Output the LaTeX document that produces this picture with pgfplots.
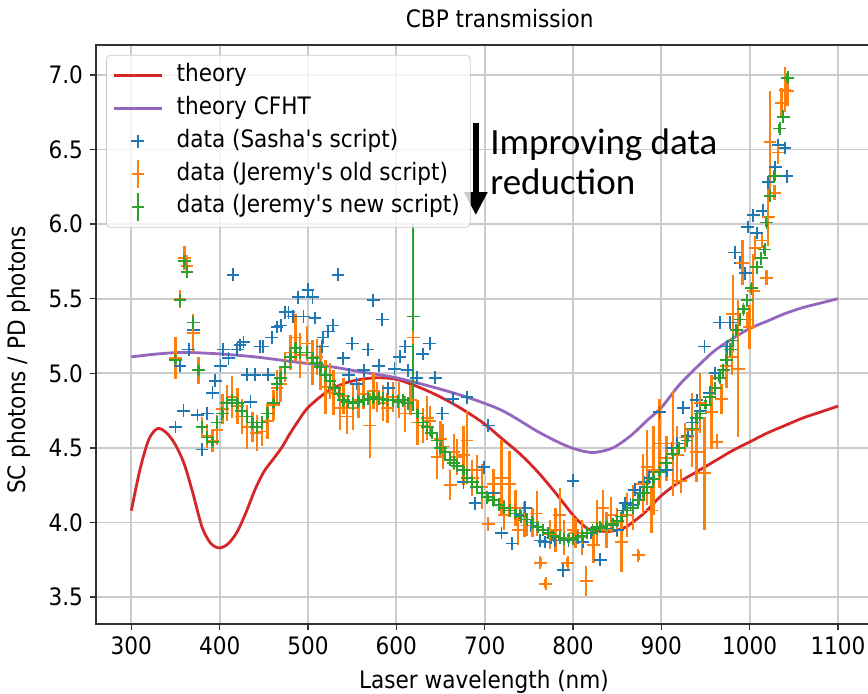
\documentclass[border=0pt]{standalone}
\usepackage{fontspec}
\setmainfont{DejaVu Sans Condensed}
\newfontfamily\calibri{Carlito}
\usepackage{pgfplots}
\usepackage{pgfplotstable}
\pgfplotsset{compat=1.18}
\usetikzlibrary{arrows.meta}

\definecolor{tabblue}{HTML}{1F77B4}
\definecolor{taborange}{HTML}{FF7F0E}
\definecolor{tabgreen}{HTML}{2CA02C}
\definecolor{tabred}{HTML}{D62728}
\definecolor{tabpurple}{HTML}{9467BD}
\definecolor{gridgray}{HTML}{CBCBCB}
\definecolor{spine}{HTML}{333333}

\pgfplotsset{
  lineleg/.style={legend image code/.code={\draw[##1] (0pt,0pt) -- (24pt,0pt);}},
  markleg/.style={legend image code/.code={\draw[##1] plot[only marks] coordinates {(12pt,0pt)};}},
  orangeleg/.style={legend image code/.code={\draw[taborange, line width=1.1pt] (12pt,-7pt) -- (12pt,7pt); \draw[taborange, line width=0.9pt] (9pt,0pt) -- (15pt,0pt);}},
  greenleg/.style={legend image code/.code={\draw[tabgreen, line width=1.1pt] (12pt,-7pt) -- (12pt,7pt); \draw[tabgreen, line width=0.9pt] (9pt,0pt) -- (15pt,0pt);}},
}

\pgfplotstableread{
x y
350 4.64
355 5.05
359 4.75
365 5.16
370 5.29
375 4.72
380 4.49
386 4.73
392 4.87
395 4.95
401 5.05
404 5.16
410 5.10
415 5.66
420 5.16
423 5.19
427 5.21
431 4.99
435 4.81
440 4.99
446 5.18
449 5.18
455 4.99
459 5.24
465 5.31
469 5.32
474 5.41
478 5.41
483 5.38
489 5.51
495 5.38
500 5.56
505 5.51
508 5.37
516 5.18
517 5.24
523 5.28
528 5.32
534 5.66
540 5.10
546 4.99
550 5.20
555 4.93
563 5.02
568 5.16
574 5.49
580 5.05
584 5.36
591 4.90
598 5.03
604 5.11
610 5.18
613 5.02
623 4.97
630 5.13
638 5.20
644 4.97
652 4.73
664 4.83
676 4.27
680 4.84
689 4.13
699 4.37
704 4.65
710 4.20
719 3.93
731 3.86
740 4.05
746 4.10
752 3.98
763 3.88
768 3.87
775 3.90
780 3.88
789 3.68
795 3.88
800 4.28
806 3.90
811 3.87
820 3.93
831 3.75
838 3.96
845 3.98
850 3.95
857 4.08
859 4.13
865 4.12
870 4.22
876 4.20
881 4.27
886 4.30
891 4.34
898 4.74
906 4.35
912 4.50
918 4.53
925 4.77
930 4.58
935 4.67
940 4.82
944 4.75
949 5.18
955 4.87
961 5.00
966 5.34
974 5.18
978 5.34
983 5.81
989 5.74
995 5.67
998 5.98
1004 6.06
1008 5.94
1015 6.09
1021 6.28
1029 6.38
1032 6.53
1040 6.51
1042 6.32
}\sasha

\pgfplotstableread{
x y e
350 5.10 0.14
355 5.50 0.06
360 5.77 0.08
363 5.72 0.07
370 5.27 0.13
376 5.02 0.09
380 4.64 0.07
386 4.58 0.08
392 4.55 0.08
397 4.62 0.10
403 4.76 0.10
408 4.80 0.12
414 4.84 0.14
420 4.78 0.12
425 4.71 0.12
431 4.64 0.15
437 4.64 0.10
442 4.60 0.12
448 4.61 0.10
454 4.68 0.12
461 4.79 0.10
465 4.90 0.12
469 4.93 0.12
474 5.04 0.10
480 5.14 0.12
486 5.24 0.16
491 5.12 0.15
499 5.20 0.12
505 5.07 0.15
510 5.11 0.12
514 5.04 0.15
520 4.91 0.18
525 4.95 0.12
529 4.87 0.15
536 4.77 0.15
540 4.85 0.12
544 4.71 0.12
551 4.77 0.15
557 4.82 0.12
563 4.86 0.10
570 4.65 0.22
574 4.88 0.12
578 4.84 0.10
585 4.80 0.12
590 4.77 0.10
596 4.84 0.10
603 4.82 0.12
610 4.73 0.12
616 4.82 0.10
619 5.24 0.05
624 4.67 0.15
630 4.65 0.12
635 4.70 0.15
638 4.68 0.10
646 4.44 0.15
650 4.56 0.12
653 4.51 0.15
661 4.25 0.10
665 4.47 0.12
669 4.44 0.12
676 4.45 0.20
680 4.55 0.20
686 4.30 0.12
691 4.35 0.10
697 4.24 0.15
704 3.99 0.05
710 4.26 0.10
719 4.30 0.25
722 4.05 0.10
728 4.26 0.22
735 4.10 0.12
738 3.95 0.10
745 4.02 0.12
748 3.98 0.07
754 4.00 0.10
759 4.06 0.15
763 3.73 0.03
769 3.59 0.03
774 3.92 0.10
780 3.95 0.15
785 4.05 0.18
790 3.90 0.12
794 3.73 0.03
800 3.95 0.10
803 3.93 0.10
810 3.90 0.12
815 3.61 0.10
823 3.85 0.12
827 4.00 0.15
834 4.10 0.12
838 3.95 0.12
843 4.05 0.12
850 4.00 0.10
855 3.87 0.20
861 4.05 0.15
868 4.10 0.15
874 3.78 0.03
879 4.26 0.20
884 4.37 0.25
889 4.08 0.15
891 4.35 0.30
898 4.53 0.30
906 4.43 0.15
913 4.53 0.35
918 4.45 0.20
922 4.28 0.08
927 4.57 0.10
935 4.62 0.25
940 4.47 0.20
944 4.80 0.20
949 4.33 0.38
957 4.74 0.25
963 4.54 0.05
968 4.83 0.10
974 5.05 0.15
980 5.11 0.12
981 5.40 0.26
987 5.03 0.46
992 5.74 0.15
997 5.36 0.05
1000 5.31 0.15
1004 5.55 0.25
1006 5.84 0.08
1014 5.89 0.05
1019 5.64 0.05
1021 6.05 0.20
1023 6.55 0.34
1028 6.21 0.05
1032 6.48 0.08
1036 6.81 0.10
1040 6.90 0.15
1043 6.89 0.10
}\jold

\pgfplotstableread{
x y e
350 5.09 0.03
355 5.49 0.03
360 5.75 0.03
363 5.68 0.03
370 5.34 0.04
376 5.02 0.03
380 4.64 0.03
386 4.57 0.03
392 4.54 0.03
397 4.67 0.03
403 4.73 0.03
408 4.80 0.03
414 4.82 0.03
420 4.80 0.03
425 4.75 0.03
431 4.71 0.03
437 4.67 0.03
442 4.64 0.03
448 4.67 0.03
454 4.73 0.03
461 4.80 0.03
465 4.93 0.03
469 4.97 0.03
474 5.04 0.03
480 5.11 0.03
486 5.17 0.03
491 5.14 0.03
499 5.14 0.03
505 5.10 0.03
510 5.07 0.03
514 5.04 0.03
520 4.99 0.03
525 4.95 0.03
530 4.90 0.03
535 4.86 0.03
540 4.82 0.03
545 4.81 0.03
551 4.80 0.03
557 4.81 0.03
563 4.82 0.03
568 4.83 0.03
574 4.84 0.03
580 4.83 0.03
585 4.83 0.03
590 4.82 0.03
596 4.82 0.03
602 4.81 0.03
608 4.82 0.03
613 4.80 0.03
619 5.38 0.63
624 4.73 0.03
630 4.67 0.03
635 4.64 0.03
640 4.60 0.03
646 4.55 0.03
650 4.50 0.03
655 4.47 0.03
661 4.42 0.03
665 4.40 0.03
669 4.38 0.03
676 4.35 0.03
680 4.30 0.03
686 4.27 0.03
691 4.24 0.03
697 4.20 0.03
703 4.17 0.03
710 4.15 0.03
716 4.12 0.03
722 4.10 0.03
729 4.08 0.03
735 4.06 0.03
741 4.04 0.03
748 4.02 0.03
754 4.00 0.03
760 3.97 0.03
766 3.95 0.03
772 3.93 0.03
778 3.91 0.03
785 3.90 0.03
790 3.89 0.03
795 3.89 0.03
800 3.89 0.03
805 3.90 0.03
810 3.91 0.03
816 3.93 0.03
822 3.95 0.03
827 3.96 0.03
831 3.97 0.03
838 3.98 0.03
845 3.99 0.03
850 4.01 0.03
855 4.04 0.03
861 4.08 0.03
868 4.10 0.03
874 4.15 0.03
880 4.20 0.03
884 4.24 0.03
891 4.29 0.03
898 4.34 0.03
905 4.40 0.03
913 4.46 0.03
920 4.50 0.03
929 4.55 0.03
935 4.63 0.03
940 4.70 0.03
944 4.73 0.03
950 4.79 0.03
955 4.84 0.03
961 4.90 0.03
966 4.97 0.03
970 5.02 0.03
974 5.09 0.03
978 5.16 0.03
981 5.22 0.03
985 5.29 0.03
989 5.36 0.03
993 5.43 0.03
997 5.49 0.03
1002 5.57 0.03
1008 5.71 0.03
1013 5.77 0.03
1017 5.83 0.03
1019 6.01 0.03
1023 6.19 0.03
1028 6.32 0.03
1034 6.64 0.03
1038 6.72 0.03
1043 6.98 0.03
}\jnew

\begin{document}
\begin{tikzpicture}
\begin{axis}[
  scale only axis, width=386pt, height=289.5pt,
  xmin=260, xmax=1134, ymin=3.32, ymax=7.2,
  xtick={300,400,500,600,700,800,900,1000,1100},
  ytick={3.5,4.0,4.5,5.0,5.5,6.0,6.5,7.0},
  axis line style={draw=none},
  tick align=outside, tick pos=left,
  major tick length=3pt,
  every tick/.style={spine, line width=0.75pt},
  grid=major, major grid style={gridgray, line width=0.95pt},
  font=\fontsize{12}{14}\selectfont,
  /pgf/number format/assume math mode=true,
  /pgf/number format/1000 sep={},
  yticklabel style={/pgf/number format/.cd, fixed, fixed zerofill, precision=1},
  title={CBP transmission},
  title style={at={(0.523,1)}, anchor=base, yshift=2.5pt, font=\fontsize{12}{14}\selectfont},
  xlabel={Laser wavelength (nm)},
  xlabel style={at={(0.5026,0)}, anchor=base, yshift=-32pt},
  ylabel={SC photons / PD photons},
  ylabel style={at={(-0.0907,0.456)}, anchor=base},
  legend cell align=left,
  legend style={at={(0.013,0.983)}, anchor=north west, draw=gridgray,
    rounded corners=2pt, fill=white, fill opacity=0.8, text opacity=1,
    inner xsep=3pt, inner ysep=2pt, row sep=0pt,
    nodes={text height=9pt, text depth=3pt, inner sep=2.2pt},
    /tikz/every odd column/.append style={column sep=4.5pt},
    font=\fontsize{12}{14}\selectfont},
]
\addplot[tabred, line width=1.4pt, smooth, lineleg] coordinates {
(300,4.08) (310,4.36) (320,4.56) (330,4.63) (340,4.60) (350,4.52) (360,4.39)
(370,4.19) (380,3.97) (390,3.86) (400,3.83) (410,3.86) (420,3.94) (430,4.07)
(440,4.22) (450,4.34) (460,4.42) (470,4.50) (480,4.60) (490,4.69) (500,4.77)
(520,4.87) (540,4.93) (560,4.96) (580,4.97) (600,4.96) (620,4.92) (640,4.87)
(660,4.81) (680,4.74) (700,4.66) (720,4.56) (740,4.46) (760,4.34) (780,4.20)
(800,4.05) (810,3.99) (820,3.95) (840,3.94) (850,3.95) (860,3.97) (880,4.06)
(900,4.18) (920,4.27) (940,4.34) (960,4.41) (980,4.48) (1000,4.54) (1020,4.60)
(1040,4.65) (1060,4.70) (1080,4.74) (1100,4.78)};
\addlegendentry{theory}
\addplot[tabpurple, line width=1.4pt, smooth, lineleg] coordinates {
(300,5.11) (330,5.13) (360,5.14) (400,5.13) (440,5.11) (480,5.08) (520,5.05)
(560,5.01) (600,4.97) (640,4.91) (680,4.84) (720,4.75) (760,4.61) (790,4.52)
(810,4.48) (825,4.47) (845,4.50) (865,4.58) (885,4.69) (900,4.77) (920,4.92)
(940,5.04) (960,5.15) (980,5.23) (1000,5.30) (1020,5.35) (1040,5.40)
(1060,5.44) (1080,5.47) (1100,5.50)};
\addlegendentry{theory CFHT}
\addplot[tabblue, only marks, mark=+, mark size=3.2pt, mark options={line width=0.9pt}, markleg]
  table[x=x, y=y] {\sasha};
\addlegendentry{data (Sasha\textquotesingle s script)}
\addplot[taborange, only marks, mark=+, mark size=3.2pt, mark options={line width=0.9pt}, orangeleg,
  error bars/.cd, y dir=both, y explicit, error mark=none,
  error bar style={line width=1.2pt}]
  table[x=x, y=y, y error=e] {\jold};
\addlegendentry{data (Jeremy\textquotesingle s old script)}
\addplot[tabgreen, only marks, mark=+, mark size=3.2pt, mark options={line width=0.9pt}, greenleg,
  error bars/.cd, y dir=both, y explicit, error mark=none,
  error bar style={line width=1.2pt}]
  table[x=x, y=y, y error=e] {\jnew};
\addlegendentry{data (Jeremy\textquotesingle s new script)}

\draw[-{Triangle[width=11pt, length=11.5pt]}, line width=3pt, black]
  (axis cs:690,6.675) -- (axis cs:690,6.06);
\node[anchor=base west, inner sep=0pt, font=\calibri\fontsize{18.5}{20}\selectfont]
  at (axis cs:706,6.463) {Improving data};
\node[anchor=base west, inner sep=0pt, font=\calibri\fontsize{18.5}{20}\selectfont]
  at (axis cs:706,6.195) {reduction};

\coordinate (BL) at (rel axis cs:0,0);
\coordinate (TR) at (rel axis cs:1,1);
\coordinate (TL) at (rel axis cs:0,1);
\coordinate (BR) at (rel axis cs:1,0);
\end{axis}
\draw[spine, line width=0.75pt] (TR) -- (TL) -- (BL) -- (BR);
\pgfresetboundingbox
\path ([xshift=-48pt,yshift=-34.5pt]BL) rectangle ([yshift=22.5pt]TR);
\end{tikzpicture}
\end{document}
